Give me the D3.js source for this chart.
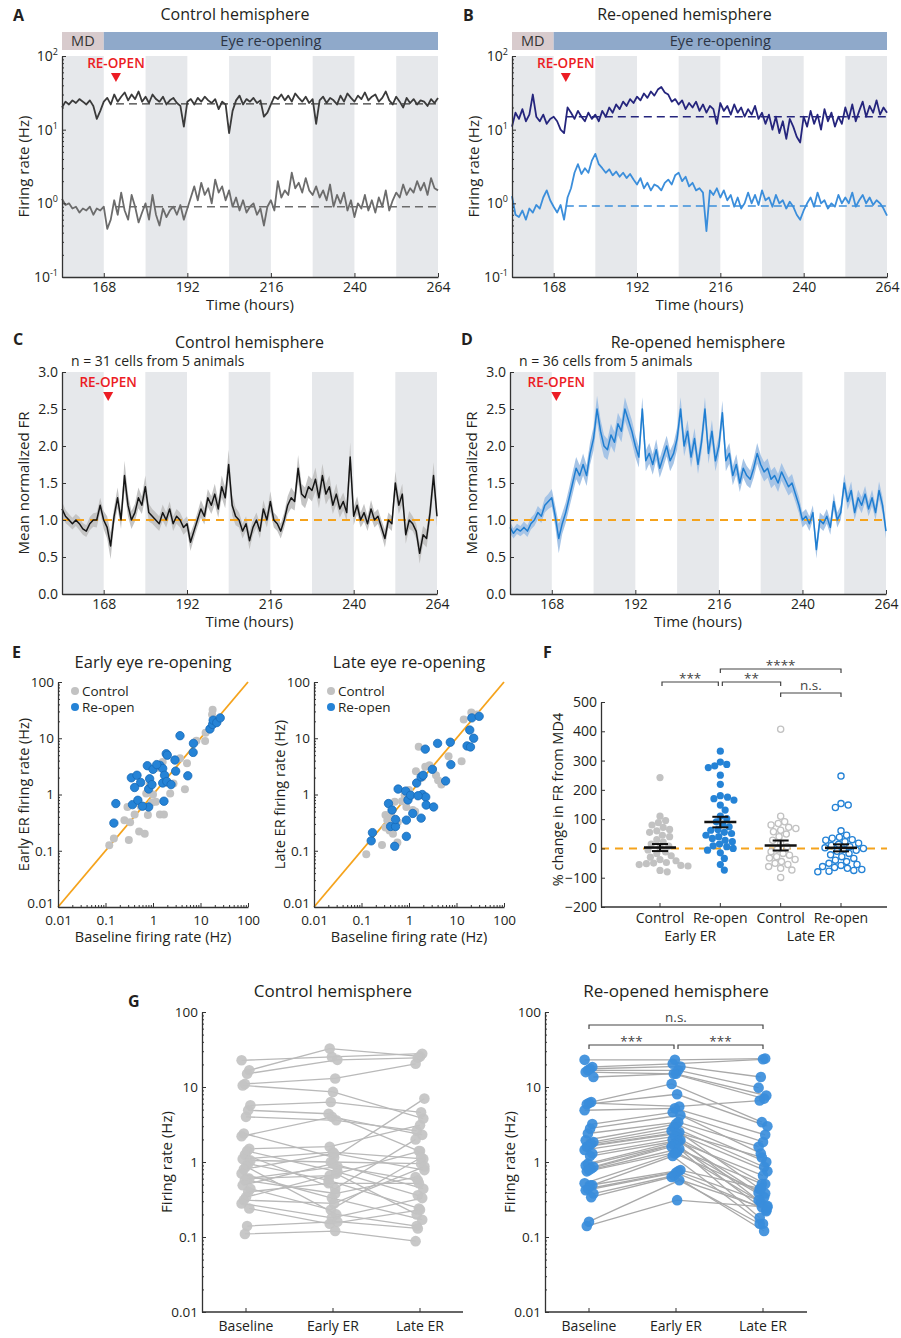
<!DOCTYPE html>
<html>
<head>
<meta charset="utf-8">
<script src="https://d3js.org/d3.v7.min.js"></script>
<style>
  body { margin: 0; background: #fff; }
</style>
</head>
<body>
<script>
// ---------------- data ----------------
const hours = d3.range(156, 265);            // one sample per hour, 156..264
const darkStarts = [156, 180, 204, 228, 252]; // 12 h dark periods
const tickHours = [168, 192, 216, 240, 264];
const reopenHour = [171.5, 169.3];           // [single units, population]

// A: control hemisphere, two example units (Hz)
const ctrlUnitHigh = [
  20,24,22,25,23,26,24,22,25,21,14,18,
  24,27,22,30,24,28,32,25,30,26,33,24,
  28,23,30,26,24,28,22,25,27,23,21,11,
  24,26,22,27,24,28,25,23,26,19,24,22,
  9,18,25,29,22,26,24,27,23,25,15,17,
  22,28,26,30,25,29,24,31,27,24,28,23,
  26,12,25,28,23,27,25,22,29,24,31,27,
  24,29,26,32,25,28,30,24,27,33,25,22,
  28,24,20,27,23,26,22,25,24,21,26,23,27];
const ctrlUnitLow = [
  1.15,0.95,1.0,0.85,0.9,0.75,0.85,0.8,0.9,0.7,0.85,0.8,
  0.9,0.45,0.6,1.1,0.7,1.4,0.8,0.6,1.3,0.9,0.55,0.75,
  1.0,0.6,1.3,0.7,0.5,0.85,0.65,0.8,0.9,0.7,0.95,0.6,
  0.85,1.2,1.7,1.1,1.9,1.3,1.6,1.0,2.1,1.4,1.7,1.1,
  1.5,0.9,1.2,0.8,1.1,0.75,0.9,1.0,0.7,0.85,0.5,0.9,
  1.1,0.8,2.0,1.2,1.5,1.3,2.6,1.6,1.9,1.4,2.2,1.5,
  1.3,1.7,1.2,1.5,1.1,1.8,0.9,1.3,1.0,1.4,0.8,1.1,
  0.65,1.0,0.85,1.3,0.8,1.1,0.75,1.2,0.9,1.5,0.8,1.1,
  1.4,1.2,1.8,1.3,1.6,1.4,2.0,1.5,1.9,1.3,2.2,1.6,1.5];
const ctrlUnitBaseline = [22.4, 0.9];

// B: re-opened hemisphere, two example units (Hz)
const reoUnitHigh = [
  11,17,14,19,13,16,30,15,13,16,12,14,
  15,13,10,9,20,17,14,18,15,13,17,14,
  16,13,18,15,20,17,22,19,24,21,26,23,
  28,25,31,27,33,29,35,38,32,30,24,26,
  22,25,19,23,20,24,18,22,17,21,19,12,
  23,18,21,16,22,17,20,15,19,16,21,14,
  17,12,16,10,15,9,13,7.5,14,11,8,6.7,
  15,11,18,12,16,10,19,13,17,11,15,12,
  20,14,22,13,18,24,15,21,17,25,16,20,17];
const reoUnitLow = [
  1.25,0.7,0.65,0.8,0.6,0.85,0.75,0.95,0.85,1.2,1.5,1.1,
  0.9,0.75,0.95,0.6,1.2,1.6,2.6,3.4,2.5,3.0,2.6,3.8,
  4.7,3.4,3.0,2.6,2.9,2.4,2.7,2.3,2.6,2.2,2.5,2.1,
  1.8,2.2,1.6,1.9,1.5,1.8,1.7,1.5,1.9,2.1,1.8,2.4,
  2.6,2.0,2.3,1.7,1.9,1.5,1.6,1.4,0.42,1.5,1.3,1.6,
  1.2,1.5,1.1,1.3,0.9,1.2,0.85,1.0,1.4,1.0,1.3,0.95,
  1.5,1.1,1.2,0.9,1.3,1.0,1.1,0.85,1.05,0.9,0.7,0.6,
  0.8,1.0,1.2,0.9,1.4,1.0,1.1,0.85,1.0,0.9,1.3,1.0,
  1.2,1.0,1.4,0.9,1.1,1.3,1.0,1.2,0.95,1.1,1.0,0.85,0.68];
const reoUnitBaseline = [15, 0.92];

// C, D: mean normalized FR and SEM (SEM in hundredths)
const ctrlMeanFR = [
  1.15,1.05,1.0,0.95,1.0,0.95,0.88,0.85,0.95,1.0,1.0,1.2,
  1.0,0.9,0.65,1.05,1.3,1.0,1.6,1.2,1.0,1.1,1.3,1.2,
  1.45,1.1,1.05,1.0,0.95,1.1,1.0,1.15,0.95,1.05,1.0,0.9,
  0.95,0.7,0.85,1.0,1.15,1.05,1.3,1.2,1.35,1.15,1.45,1.3,
  1.75,1.2,1.05,1.0,0.85,0.95,0.72,0.9,1.0,0.85,1.15,1.0,
  1.25,1.0,0.95,0.85,1.0,1.2,1.3,1.25,1.7,1.35,1.3,1.45,
  1.4,1.55,1.3,1.6,1.35,1.45,1.2,1.35,1.15,1.25,1.1,1.85,
  1.05,1.2,1.0,1.1,0.95,1.15,1.0,1.05,0.9,0.75,1.0,0.95,
  1.5,1.2,1.35,0.8,1.0,0.95,0.85,0.55,0.8,0.75,1.1,1.6,1.05];
const ctrlSemFR = [
  10,9,8,8,8,9,8,8,9,9,10,10,
  12,15,18,12,14,12,20,15,12,12,14,12,
  15,12,10,10,10,11,10,10,10,10,10,10,
  10,12,10,10,12,11,12,12,14,12,15,14,
  20,14,12,10,10,10,12,10,10,10,12,10,
  14,10,10,10,10,12,14,12,18,14,14,15,
  15,16,14,16,14,15,12,14,12,12,12,20,
  12,12,10,12,10,12,10,10,10,12,10,10,
  16,12,14,12,12,10,10,14,12,12,14,18,15];
const reoMeanFR = [
  0.9,0.82,0.88,0.85,0.9,0.85,0.95,1.0,1.1,1.05,1.2,1.25,
  1.3,1.05,0.75,0.95,1.1,1.3,1.5,1.7,1.6,1.75,1.6,1.9,
  2.1,2.5,2.2,2.0,1.95,2.15,2.05,2.3,2.2,2.5,2.35,2.2,
  2.0,1.85,2.5,1.8,1.9,1.75,1.95,1.7,1.85,2.0,1.8,1.9,
  2.1,2.5,2.0,2.2,1.85,2.1,1.75,2.05,2.5,1.9,2.2,1.8,
  2.0,2.45,1.8,1.9,1.6,1.75,1.5,1.7,1.6,1.55,1.7,1.9,
  1.75,1.65,1.7,1.55,1.6,1.5,1.65,1.55,1.45,1.5,1.35,1.2,
  1.0,1.05,0.95,1.1,0.6,1.0,0.95,1.05,0.9,1.25,1.0,1.1,
  1.5,1.25,1.4,1.1,1.3,1.2,1.35,1.15,1.3,1.1,1.4,1.2,0.85];
const reoSemFR = [
  8,7,7,7,8,8,8,8,9,9,10,10,
  12,14,20,14,14,14,15,15,14,15,14,15,
  16,18,16,15,14,15,14,15,15,16,15,15,
  15,14,16,14,14,14,14,13,14,14,14,14,
  15,16,14,15,14,14,13,14,16,14,15,14,
  14,16,14,14,13,14,12,13,13,12,13,14,
  13,13,13,12,12,12,12,12,12,12,11,11,
  10,10,10,10,12,10,10,10,10,11,10,10,
  12,11,12,10,11,11,11,10,11,10,12,11,10];

// E: [baseline Hz, eye re-opening Hz]
const earlyCtrl = [[0.12,0.125],[0.15,0.165],[0.31,0.155],[0.25,0.35],[0.33,0.32],[0.29,0.6],[0.41,0.44],
  [0.51,0.22],[0.67,0.2],[0.78,0.43],[0.72,1.04],[0.95,0.72],[1.15,0.74],[1.4,0.44],[1.7,0.44],[2.3,1.04],
  [2.7,1.57],[4.7,1.24],[1.6,3.8],[3.7,4.4],[5.2,3.6],[8.2,9.0],[12.5,8.9],[12.8,12.5],[18,32],[17.5,26.5],
  [1.0,1.0],[0.85,1.5],[0.55,0.62],[2.0,1.6],[1.25,3.0]];
const earlyReo = [[0.15,0.31],[0.165,0.69],[0.35,1.98],[0.46,2.2],[0.55,1.64],[0.41,1.33],[0.37,0.66],
  [0.48,0.79],[0.76,3.25],[0.85,1.9],[1.0,2.8],[0.81,1.25],[0.81,0.6],[1.4,3.3],[1.6,2.9],[1.9,5.3],[2.0,5.0],
  [1.75,2.2],[1.6,1.6],[1.95,1.7],[1.7,0.76],[2.9,4.1],[3.0,2.6],[3.7,11.1],[5.4,2.15],[7.0,5.6],[7.1,8.1],
  [15.8,14.6],[18,17.6],[18.5,21],[22,19],[26,23],[0.6,0.62],[1.2,3.4],[0.95,1.5],[2.4,1.5]];
const lateCtrl = [[0.126,0.087],[0.27,0.126],[0.35,0.35],[0.32,0.43],[0.39,0.23],[0.46,0.2],[0.57,0.14],
  [0.5,0.74],[0.71,0.76],[0.81,0.97],[1.2,0.53],[1.35,0.5],[1.6,7.06],[1.4,2.6],[1.9,2.0],[2.2,3.1],[2.7,3.3],
  [3.2,2.8],[3.7,2.2],[4.8,1.5],[6.8,4.8],[12.8,3.9],[14.2,21.6],[20.5,28.8],[27,26.5],[4.1,1.8],[1.0,1.2],
  [0.42,0.46],[0.58,0.32],[0.88,0.6],[0.32,0.26]];
const lateReo = [[0.16,0.15],[0.17,0.21],[0.37,0.69],[0.44,0.53],[0.41,0.27],[0.52,0.27],[0.52,0.36],
  [0.5,0.12],[0.59,1.25],[0.85,1.15],[0.95,0.8],[1.08,0.97],[0.88,0.35],[0.88,0.18],[1.2,0.46],[1.8,0.38],
  [1.45,1.6],[1.8,2.05],[1.98,2.2],[1.9,1.0],[2.25,0.9],[2.3,0.65],[3.3,0.6],[2.2,6.4],[3.1,2.8],[4.0,8.1],
  [5.9,1.74],[7.4,8.5],[7.6,3.4],[19,14],[16.7,7.3],[19.7,7.0],[23,10],[21,23],[30,24.5],[1.55,0.95]];

// F: % change in FR from MD4
const fCategories = ["Control", "Re-open", "Control", "Re-open"];
const fGroups = ["Early ER", "Late ER"];
const pctCtrlEarly = [242,110,95,88,80,72,65,60,55,45,40,30,22,15,8,2,-5,-12,-18,-25,-30,-38,-42,-48,-50,-52,-55,-58,-60,-75,-80];
const pctReoEarly = [332,295,287,282,276,250,219,180,175,170,165,148,131,110,102,91,82,74,65,62,55,51,45,40,34,28,23,15,9,6,0,-6,-15,-34,-55,-74];
const pctCtrlLate = [407,110,91,85,80,72,68,62,57,49,40,28,17,6,-3,-11,-17,-23,-28,-33,-38,-45,-51,-55,-62,-68,-74,-99];
const pctReoLate = [247,153,148,140,60,45,38,35,30,28,23,18,14,10,6,2,0,-3,-6,-10,-17,-22,-28,-34,-40,-45,-51,-55,-58,-62,-65,-68,-72,-75,-78,-80];
const pctMean = [3, 90, 10, 2];
const pctSem = [12, 18, 17, 12];

// G: [baseline, early ER, late ER] Hz per cell
const gCategories = ["Baseline", "Early ER", "Late ER"];
const gCtrl = [[22.7,25.2,27.8],[16.7,32.5,25.6],[15,23,24.5],[11,13,20.4],[10.5,8.6,3.8],[5.7,6.3,4.6],
  [4.9,4.4,1.4],[4.0,3.6,2.6],[2.4,1.15,7.0],[2.2,4.0,2.3],[1.5,1.6,3.1],[1.4,0.74,0.36],[1.25,0.44,2.0],
  [1.1,1.35,1.1],[1.05,1.0,0.95],[0.95,0.57,0.24],[0.87,0.2,0.14],[0.8,1.3,0.78],[0.7,0.33,0.17],
  [0.6,0.66,1.4],[0.6,0.87,0.57],[0.57,0.38,0.63],[0.49,0.95,0.44],[0.44,0.23,1.15],[0.4,0.52,0.52],
  [0.34,0.7,0.2],[0.31,0.28,0.87],[0.28,0.18,0.33],[0.24,0.15,0.23],[0.14,0.16,0.13],[0.11,0.12,0.088]];
const gReo = [[23,23,23.9],[18.5,20.4,23.4],[17.5,18.8,13.6],[16.7,16.7,9.8],[15.8,15,7.7],[13.6,15,7.0],
  [6.3,11,3.4],[6.1,5.5,6.6],[5.9,8.0,3.0],[4.9,5.2,2.3],[3.2,4.6,1.85],[2.8,4.2,1.3],[2.4,3.4,1.6],
  [1.95,3.2,1.0],[1.85,2.9,0.86],[1.75,2.6,1.15],[1.65,2.5,0.44],[1.6,2.4,0.75],[1.45,2.2,0.51],
  [1.3,2.0,0.66],[1.2,1.95,0.29],[0.95,1.9,0.39],[0.9,1.75,0.22],[0.86,1.7,0.34],[0.82,1.6,0.51],
  [0.78,1.5,0.18],[0.75,1.35,0.26],[0.52,1.3,0.38],[0.49,1.2,0.15],[0.49,0.78,0.44],[0.44,0.75,0.31],
  [0.42,0.72,0.23],[0.38,0.66,0.12],[0.34,0.63,0.25],[0.16,0.57,0.15],[0.14,0.31,0.25]];

// ---------------- style ----------------
const FONT = "'Open Sans', 'Noto Sans', sans-serif";
const ink = "#231f20", axisInk = "#333";
const bandFill = "#e6e8eb", red = "#ec1c24", orange = "#f5a31c";
const grayDot = "#c2c2c2", blueDot = "#2583d6";

const svg = d3.select("body").append("svg")
  .attr("width", 901).attr("height", 1338)
  .attr("font-family", FONT);

function label(x, y, s, size, o = {}) {
  const t = svg.append("text").attr("x", x).attr("y", y)
    .attr("font-size", size).attr("text-anchor", o.anchor || "middle")
    .attr("font-weight", o.weight || 400).attr("fill", o.fill || ink).text(s);
  if (o.rotate) t.attr("transform", `rotate(-90,${x},${y})`);
  return t;
}
function styleAxis(g, size) {
  g.attr("font-family", FONT).attr("font-size", size);
  g.select(".domain").attr("stroke", axisInk).attr("stroke-width", 1.3);
  g.selectAll(".tick line").attr("stroke", axisInk);
  g.selectAll(".tick text").attr("fill", ink);
  return g;
}
function xAxis(scale, y, vals, fmt, size, pad = 5) {
  return styleAxis(svg.append("g").attr("transform", `translate(0,${y})`)
    .call(d3.axisBottom(scale).tickValues(vals).tickFormat(fmt)
      .tickSize(-4).tickSizeOuter(0).tickPadding(pad)), size);
}
function yAxis(scale, x, vals, fmt, size) {
  return styleAxis(svg.append("g").attr("transform", `translate(${x},0)`)
    .call(d3.axisLeft(scale).tickValues(vals).tickFormat(fmt)
      .tickSize(-4).tickSizeOuter(0).tickPadding(4)), size);
}
function minor(scale, pos, vals, vertical) {
  const ax = vertical ? d3.axisLeft(scale) : d3.axisBottom(scale);
  const g = svg.append("g")
    .attr("transform", vertical ? `translate(${pos},0)` : `translate(0,${pos})`)
    .call(ax.tickValues(vals).tickFormat("").tickSize(-2).tickSizeOuter(0));
  g.select(".domain").remove();
  g.selectAll(".tick line").attr("stroke", axisInk);
}
function logMinor(lo, hi) {
  const out = [];
  for (let d = lo; d < hi * 0.99; d *= 10)
    for (let k = 2; k < 10; k++) out.push(d * k);
  return out;
}

// ---------------- time-course panels ----------------
function timePanel(p) {
  const x = d3.scaleLinear().domain([156, 264]).range([p.x0, p.x1]);
  svg.append("g").selectAll("rect").data(darkStarts).join("rect")
    .attr("x", d => x(d)).attr("y", p.yTop)
    .attr("width", d => x(d + 12) - x(d)).attr("height", p.yBot - p.yTop)
    .attr("fill", bandFill);
  return x;
}
function timeAxes(p, x) {
  xAxis(x, p.yBot, tickHours, d3.format("d"), 14);
  label((p.x0 + p.x1) / 2, p.yBot + 33, "Time (hours)", 15);
}
function header(x) {
  svg.append("rect").attr("x", x(156)).attr("y", 32).attr("width", x(168) - x(156))
    .attr("height", 18).attr("fill", "#d8cbcd");
  svg.append("rect").attr("x", x(168)).attr("y", 32).attr("width", x(264) - x(168))
    .attr("height", 18).attr("fill", "#8fa9ca");
  label((x(156) + x(168)) / 2, 46, "MD", 14.5, {fill: "#333"});
  label((x(168) + x(264)) / 2, 46, "Eye re-opening", 14.5, {fill: "#2b3444"});
}
function reopenMark(x, hour, yText) {
  const cx = x(hour);
  label(cx, yText, "RE-OPEN", 13.5, {fill: red, weight: 600});
  svg.append("path")
    .attr("d", `M${cx - 5},${yText + 5}L${cx + 5},${yText + 5}L${cx},${yText + 14}Z`)
    .attr("fill", red);
}
function logYAxisPow(y, x0) {
  yAxis(y, x0, [0.1, 1, 10, 100], "", 14);
  minor(y, x0, logMinor(0.1, 100), true);
  const exps = ["-1", "0", "1", "2"];
  [0.1, 1, 10, 100].forEach((v, i) => {
    const t = svg.append("text").attr("x", x0 - 4).attr("y", y(v) + 5)
      .attr("text-anchor", "end").attr("font-size", 14).attr("fill", ink);
    t.append("tspan").text("10");
    t.append("tspan").attr("dy", -6).attr("font-size", 9).text(exps[i]);
  });
}
function unitPanel(p, title, letter, hi, lo, base, cHi, cLo) {
  const x = timePanel(p);
  const y = d3.scaleLog().domain([0.1, 100]).range([p.yBot, p.yTop]);
  header(x);
  const line = d3.line().x((d, i) => x(hours[i])).y(d => y(d));
  [[hi, cHi], [lo, cLo]].forEach(([s, c], k) => {
    svg.append("line").attr("x1", x(reopenHour[0])).attr("x2", x(264))
      .attr("y1", y(base[k])).attr("y2", y(base[k]))
      .attr("stroke", c).attr("stroke-width", 1.4).attr("stroke-dasharray", "8,5");
    svg.append("path").datum(s).attr("d", line).attr("fill", "none")
      .attr("stroke", c).attr("stroke-width", 1.8).attr("stroke-linejoin", "round");
  });
  reopenMark(x, reopenHour[0], 68);
  timeAxes(p, x);
  logYAxisPow(y, p.x0);
  label(p.x0 - 33, (p.yTop + p.yBot) / 2, "Firing rate (Hz)", 15, {rotate: true});
  label(p.x0 - 49, 21, letter, 16, {weight: 700, anchor: "start"});
  label((p.x0 + p.x1) / 2 - 15, 20, title, 16);
}
unitPanel({x0: 62, x1: 438, yTop: 56, yBot: 277}, "Control hemisphere", "A",
  ctrlUnitHigh, ctrlUnitLow, ctrlUnitBaseline, "#3b3b3b", "#6c6c6c");
unitPanel({x0: 512, x1: 887, yTop: 56, yBot: 277}, "Re-opened hemisphere", "B",
  reoUnitHigh, reoUnitLow, reoUnitBaseline, "#25257d", "#3b8edb");

function popPanel(p, title, letter, nText, mean, sem, lineC, bandC) {
  const x = timePanel(p);
  const y = d3.scaleLinear().domain([0, 3]).range([p.yBot, p.yTop]);
  svg.append("path").datum(mean).attr("fill", bandC)
    .attr("d", d3.area().x((d, i) => x(hours[i]))
      .y0((d, i) => y(d - sem[i] / 100)).y1((d, i) => y(d + sem[i] / 100)));
  svg.append("line").attr("x1", p.x0).attr("x2", p.x1).attr("y1", y(1)).attr("y2", y(1))
    .attr("stroke", orange).attr("stroke-width", 2).attr("stroke-dasharray", "8,6");
  svg.append("path").datum(mean).attr("fill", "none").attr("stroke", lineC)
    .attr("stroke-width", 1.5).attr("stroke-linejoin", "round")
    .attr("d", d3.line().x((d, i) => x(hours[i])).y(d => y(d)));
  reopenMark(x, reopenHour[1], 387);
  timeAxes(p, x);
  yAxis(y, p.x0, d3.range(0, 3.01, 0.5), d3.format(".1f"), 14);
  label(p.x0 - 33, (p.yTop + p.yBot) / 2, "Mean normalized FR", 15, {rotate: true});
  label(p.x0 - 49, 345, letter, 16, {weight: 700, anchor: "start"});
  label((p.x0 + p.x1) / 2 + 0, 348, title, 16);
  label(p.x0 + 9, 366, nText, 14, {anchor: "start"});
}
popPanel({x0: 62, x1: 437, yTop: 372, yBot: 594}, "Control hemisphere", "C",
  "n = 31 cells from 5 animals", ctrlMeanFR, ctrlSemFR, "#151515", "#c4c4c4");
popPanel({x0: 510, x1: 886, yTop: 372, yBot: 594}, "Re-opened hemisphere", "D",
  "n = 36 cells from 5 animals", reoMeanFR, reoSemFR, "#1f7ed1", "#a6c4e6");

// ---------------- E: scatter ----------------
function scatter(p, title, yTitle, ctrl, reo) {
  const x = d3.scaleLog().domain([0.01, 100]).range([p.x0, p.x1]);
  const y = d3.scaleLog().domain([0.01, 100]).range([p.yBot, p.yTop]);
  svg.append("line").attr("x1", x(0.01)).attr("y1", y(0.01)).attr("x2", x(100)).attr("y2", y(100))
    .attr("stroke", orange).attr("stroke-width", 1.8);
  svg.append("g").selectAll("circle").data(ctrl).join("circle")
    .attr("cx", d => x(d[0])).attr("cy", d => y(d[1])).attr("r", 4).attr("fill", grayDot);
  svg.append("g").selectAll("circle").data(reo).join("circle")
    .attr("cx", d => x(d[0])).attr("cy", d => y(d[1])).attr("r", 4.2)
    .attr("fill", blueDot).attr("stroke", "#176ab8").attr("stroke-width", 0.8);
  const ticks = [0.01, 0.1, 1, 10, 100];
  xAxis(x, p.yBot, ticks, d3.format("~g"), 13.5, 8);
  const ya = yAxis(y, p.x0, ticks, d3.format("~g"), 13.5);
  // lift the corner label so the two "0.01" labels do not collide
  ya.selectAll(".tick text").filter(d => d === 0.01).attr("dy", "0.05em");
  minor(x, p.yBot, logMinor(0.01, 100), false);
  minor(y, p.x0, logMinor(0.01, 100), true);
  label((p.x0 + p.x1) / 2, 668, title, 16.5);
  label((p.x0 + p.x1) / 2, 942, "Baseline firing rate (Hz)", 14.5);
  label(p.x0 - 29, (p.yTop + p.yBot) / 2, yTitle, 14.5, {rotate: true});
  svg.append("circle").attr("cx", p.x0 + 17).attr("cy", 691).attr("r", 4).attr("fill", grayDot);
  svg.append("circle").attr("cx", p.x0 + 17).attr("cy", 707).attr("r", 4).attr("fill", blueDot);
  label(p.x0 + 24, 695.5, "Control", 13.5, {anchor: "start"});
  label(p.x0 + 24, 711.5, "Re-open", 13.5, {anchor: "start"});
}
scatter({x0: 58, x1: 248, yTop: 682, yBot: 907}, "Early eye re-opening",
  "Early ER firing rate (Hz)", earlyCtrl, earlyReo);
scatter({x0: 314, x1: 504, yTop: 682, yBot: 907}, "Late eye re-opening",
  "Late ER firing rate (Hz)", lateCtrl, lateReo);
label(12, 658, "E", 16, {weight: 700, anchor: "start"});

// ---------------- F: % change swarm ----------------
function swarm(values, cx, y, r) {
  const placed = [];
  return values.slice().sort((a, b) => b - a).map(v => {
    const py = y(v);
    let off = 0;
    for (let k = 0; k < 80; k++) {
      const cand = (k % 2 ? 1 : -1) * Math.ceil(k / 2) * 0.8;
      if (placed.every(q => (q.x - cx - cand) ** 2 + (q.y - py) ** 2 >= (2 * r * 0.92) ** 2)) {
        off = cand; break;
      }
    }
    const pt = {x: cx + off, y: py};
    placed.push(pt);
    return pt;
  });
}
function bracket(xa, xb, yb, text, dy) {
  svg.append("path").attr("d", `M${xa},${yb + 4}V${yb}H${xb}V${yb + 4}`)
    .attr("fill", "none").attr("stroke", "#444").attr("stroke-width", 1.2);
  label((xa + xb) / 2, yb + dy, text, 13.5, {fill: "#444"});
}
{
  const p = {x0: 601, x1: 887, yTop: 702, yBot: 907};
  const y = d3.scaleLinear().domain([-200, 500]).range([p.yBot, p.yTop]);
  const x = d3.scalePoint().domain(d3.range(4)).range([660, 841]);
  svg.append("line").attr("x1", p.x0).attr("x2", p.x1).attr("y1", y(0)).attr("y2", y(0))
    .attr("stroke", orange).attr("stroke-width", 2).attr("stroke-dasharray", "8,6");
  const groups = [pctCtrlEarly, pctReoEarly, pctCtrlLate, pctReoLate];
  groups.forEach((vals, gi) => {
    const c = gi % 2 ? blueDot : grayDot;
    const filled = gi < 2;
    svg.append("g").selectAll("circle").data(swarm(vals, x(gi), y, 3.6)).join("circle")
      .attr("cx", d => d.x).attr("cy", d => d.y).attr("r", filled ? 3.6 : 3.1)
      .attr("fill", filled ? c : "#fff").attr("stroke", c).attr("stroke-width", filled ? 0 : 1.3);
    const m = pctMean[gi], s = pctSem[gi], cx = x(gi);
    const eb = svg.append("g").attr("stroke", "#111");
    eb.append("line").attr("x1", cx - 16).attr("x2", cx + 16).attr("y1", y(m)).attr("y2", y(m)).attr("stroke-width", 2.6);
    eb.append("line").attr("x1", cx).attr("x2", cx).attr("y1", y(m - s)).attr("y2", y(m + s)).attr("stroke-width", 2);
    [m - s, m + s].forEach(v => eb.append("line").attr("x1", cx - 8).attr("x2", cx + 8)
      .attr("y1", y(v)).attr("y2", y(v)).attr("stroke-width", 2));
  });
  yAxis(y, p.x0, d3.range(-200, 501, 100), d3.format("d"), 14);
  svg.append("line").attr("x1", p.x0).attr("x2", p.x1).attr("y1", p.yBot).attr("y2", p.yBot)
    .attr("stroke", axisInk).attr("stroke-width", 1.3);
  fCategories.forEach((c, i) => {
    svg.append("line").attr("x1", x(i)).attr("x2", x(i)).attr("y1", p.yBot).attr("y2", p.yBot - 4).attr("stroke", axisInk);
    label(x(i), 923, c, 14);
  });
  label((x(0) + x(1)) / 2, 941, fGroups[0], 14);
  label((x(2) + x(3)) / 2, 941, fGroups[1], 14);
  label(563, (p.yTop + p.yBot) / 2 - 5, "% change in FR from MD4", 14.5, {rotate: true});
  label(543, 658, "F", 16, {weight: 700, anchor: "start"});
  bracket(x(0) + 2, x(1) - 2, 682, "***", 1);
  bracket(x(1) + 2, x(2), 682, "**", 1);
  bracket(x(1), x(3), 669, "****", 1);
  bracket(x(2), x(3), 693, "n.s.", -3);
}

// ---------------- G: paired lines ----------------
function pairedPanel(p, title, cells, color, lineColor) {
  const y = d3.scaleLog().domain([0.01, 100]).range([p.yBot, p.yTop]);
  const x = d3.scalePoint().domain(gCategories).range([p.c0, p.c1]);
  const jit = (i, j) => (((i * 7 + j * 3) % 9) - 4) * 1.1;
  const g = svg.append("g");
  cells.forEach((c, i) => {
    g.append("path").attr("fill", "none").attr("stroke", lineColor).attr("stroke-width", 1.3)
      .attr("d", d3.line()(c.map((v, j) => [x(gCategories[j]) + jit(i, j), y(v)])));
  });
  cells.forEach((c, i) => c.forEach((v, j) => {
    g.append("circle").attr("cx", x(gCategories[j]) + jit(i, j)).attr("cy", y(v))
      .attr("r", 5.3).attr("fill", color).attr("fill-opacity", 0.92);
  }));
  yAxis(y, p.x0, [0.01, 0.1, 1, 10, 100], d3.format("~g"), 13.5);
  minor(y, p.x0, logMinor(0.01, 100), true);
  svg.append("line").attr("x1", p.x0).attr("x2", p.x1).attr("y1", p.yBot).attr("y2", p.yBot)
    .attr("stroke", axisInk).attr("stroke-width", 1.3);
  gCategories.forEach(c => {
    svg.append("line").attr("x1", x(c)).attr("x2", x(c)).attr("y1", p.yBot).attr("y2", p.yBot - 4).attr("stroke", axisInk);
    label(x(c), 1331, c, 14);
  });
  label(x(gCategories[1]), 997, title, 17);
  label(p.x0 - 30, (p.yTop + p.yBot) / 2, "Firing rate (Hz)", 15, {rotate: true});
  return x;
}
pairedPanel({x0: 202, x1: 463, yTop: 1012, yBot: 1312, c0: 246, c1: 420},
  "Control hemisphere", gCtrl, "#c3c3c3", "#b9b9b9");
const xG = pairedPanel({x0: 545, x1: 807, yTop: 1012, yBot: 1312, c0: 589, c1: 763},
  "Re-opened hemisphere", gReo, "#3a8ddb", "#a9a9a9");
label(128, 1007, "G", 16, {weight: 700, anchor: "start"});
bracket(xG("Baseline"), xG("Late ER"), 1025, "n.s.", -3);
bracket(xG("Baseline"), xG("Early ER") - 2, 1045, "***", 1);
bracket(xG("Early ER") + 2, xG("Late ER"), 1045, "***", 1);
</script>
</body>
</html>
